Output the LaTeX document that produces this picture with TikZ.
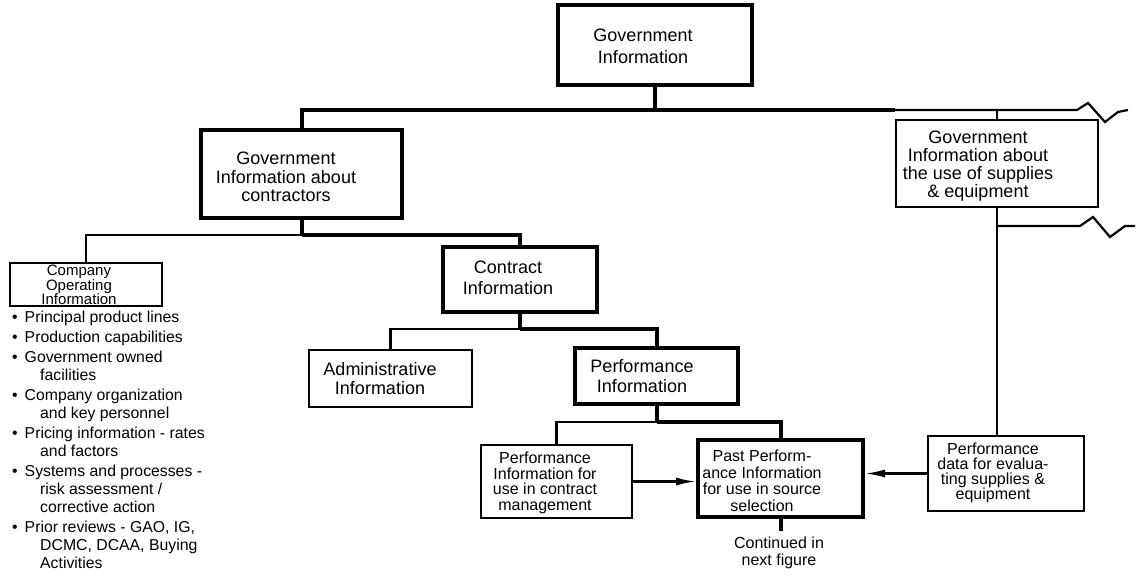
\documentclass[tikz,border=0pt]{standalone}
\usepackage{fontspec}
\setmainfont{Liberation Sans}
\usetikzlibrary{arrows.meta}

% three lines set close together inside a shallow box
\newcommand{\tightlines}{\fontsize{15}{14.3}\selectfont
  \setlength{\lineskiplimit}{-20pt}\setlength{\lineskip}{0pt}}

\tikzset{
  heavybox/.style={draw, line width=4pt, inner sep=0pt},
  lightbox/.style={draw, line width=2pt, inner sep=0pt},
  heavy/.style={line width=4pt, line join=miter},
  light/.style={line width=2.2pt, line join=miter},
  feed/.style={light, -{Latex[length=20pt,width=8pt]}},
  bigtext/.style={inner sep=0pt, align=center, font=\fontsize{18}{#1}\selectfont},
  smalltext/.style={inner sep=0pt, align=center, font=\fontsize{16}{#1}\selectfont},
  tighttext/.style={inner sep=0pt, align=center, font=\tightlines},
  listtext/.style={inner sep=0pt, align=left, anchor=north west,
    font=\fontsize{15.8}{18}\selectfont},
}

\begin{document}
\begin{tikzpicture}[x=1pt, y=-1pt]
\fill[white] (0,0) rectangle (1137,582);
\useasboundingbox (0,0) rectangle (1137,582);

% ---- boxes ----
\node[heavybox, minimum width=194, minimum height=80] (gov) at (655,45) {};
\node[bigtext=22] (govtxt) at (643,46) {Government\\Information};

\node[heavybox, minimum width=201, minimum height=88] (giac) at (301.5,174) {};
\node[bigtext=18.5] (giactxt) at (286,177) {Government\\Information about\\contractors};

\node[lightbox, minimum width=202, minimum height=87] (gisup) at (997,163.5) {};
\node[bigtext=18] (gisuptxt) at (978,166) {Government\\Information about\\the use of supplies\\\&\ equipment};

\node[lightbox, minimum width=152, minimum height=43] (coi) at (86,284.5) {};
\node[tighttext] (coitxt) at (79,285) {Company\\Operating\\Information};

\node[heavybox, minimum width=154, minimum height=65] (contract) at (520,279.5) {};
\node[bigtext=21] (contracttxt) at (508,278) {Contract\\Information};

\node[lightbox, minimum width=163, minimum height=57] (admin) at (390.5,378.5) {};
\node[bigtext=19] (admintxt) at (380,379) {Administrative\\Information};

\node[heavybox, minimum width=163, minimum height=56] (perf) at (656.5,376) {};
\node[bigtext=20] (perftxt) at (642,376.5) {Performance\\Information};

\node[lightbox, minimum width=151, minimum height=73] (pic) at (556.5,481.5) {};
\node[smalltext=15.5] (pictxt) at (545,483) {Performance\\Information for\\use in contract\\management};

\node[heavybox, minimum width=165, minimum height=77] (past) at (780.5,478.5) {};
\node[smalltext=16.5] (pasttxt) at (762,481) {Past Perform-\\ance Information\\for use in source\\selection};

\node[lightbox, minimum width=156, minimum height=75] (pdata) at (1006,473.5) {};
\node[smalltext=15] (pdatatxt) at (993,473) {Performance\\data for evalua-\\ting supplies \&\\equipment};

\node[smalltext=17] (nextfig) at (779,553) {Continued in\\next figure};

% ---- bullet list under the operating information box ----
\node[listtext] (oplist) at (12,311) {%
\textbullet\hspace{7pt}Principal product lines\\[2pt]
\textbullet\hspace{7pt}Production capabilities\\[2pt]
\textbullet\hspace{7pt}Government owned\\
\hspace{28pt}facilities\\[2pt]
\textbullet\hspace{7pt}Company organization\\
\hspace{28pt}and key personnel\\[2pt]
\textbullet\hspace{7pt}Pricing information - rates\\
\hspace{28pt}and factors\\[2pt]
\textbullet\hspace{7pt}Systems and processes -\\
\hspace{28pt}risk assessment /\\
\hspace{28pt}corrective action\\[2pt]
\textbullet\hspace{7pt}Prior reviews - GAO, IG,\\
\hspace{28pt}DCMC, DCAA, Buying\\
\hspace{28pt}Activities};

% ---- junction points ----
\coordinate (j1) at (655,110);
\coordinate (j1r) at (895,110);
\coordinate (j2) at (301.5,235);
\coordinate (j3) at (520,329);
\coordinate (j4) at (656.5,422);
\coordinate (j5) at (997,226);
\coordinate (brk1) at (1128,110);
\coordinate (brk2) at (1135,226);
\coordinate (cont) at (780.5,531);

% ---- first level ----
\draw[heavy] (gov.south) -- (j1);
\draw[heavy] (j1r) -- (j1) -| (giac.north);
\draw[light] (j1r) -- (1077,110) -- (1088,103) -- (1105,122) -- (1118,112) -- (brk1);
\draw[light] (gisup.north) -- (gisup.north |- j1);

% ---- contractors branch ----
\draw[heavy] (giac.south) -- (j2);
\draw[heavy] (j2) -| (contract.north);
\draw[light] (j2) -| (coi.north);

% ---- contract branch ----
\draw[heavy] (contract.south) -- (j3);
\draw[heavy] (j3) -| (perf.north);
\draw[light] (j3) -| (admin.north);

% ---- performance branch ----
\draw[heavy] (perf.south) -- (j4);
\draw[heavy] (j4) -| (past.north);
\draw[light] (j4) -| (pic.north);
\draw[heavy] (past.south) -- (cont);

% ---- supplies & equipment branch ----
\draw[light] (gisup.south) -- (gisup.south |- pdata.north);
\draw[light] (j5) -- (1080,226) -- (1093,217) -- (1110,237) -- (1125,226) -- (brk2);

% ---- feeds into past performance ----
\draw[feed] (pic.east) -- (pic.east -| past.west);
\draw[feed] (pdata.west) -- (pdata.west -| past.east);
\end{tikzpicture}
\end{document}
